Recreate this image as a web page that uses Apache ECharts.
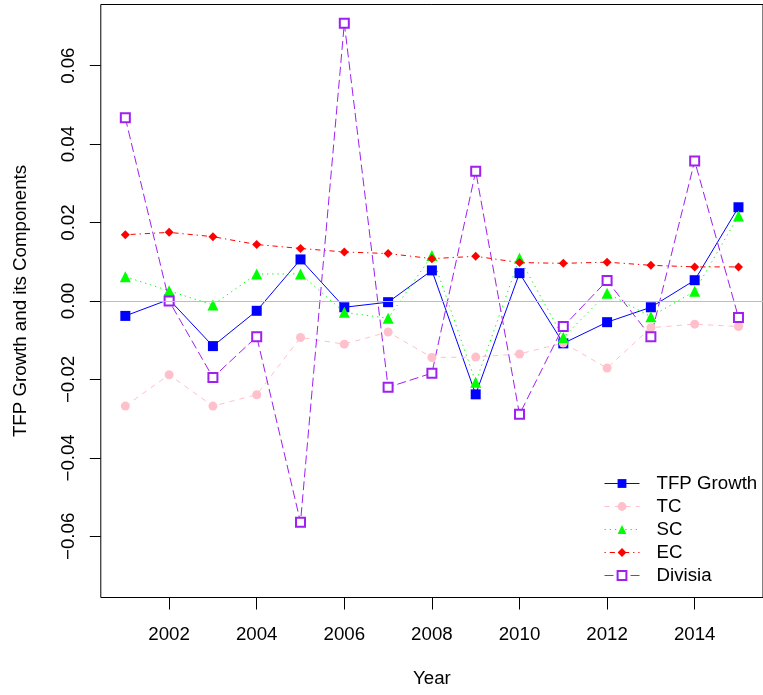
<!DOCTYPE html>
<html>
<head>
<meta charset="utf-8">
<script src="https://cdn.jsdelivr.net/npm/echarts@6/dist/echarts.min.js"></script>
<style>
html,body{margin:0;padding:0;background:#fff;}
#chart{width:763px;height:695px;}
</style>
</head>
<body>
<div id="chart"></div>
<script>
var years = [2001,2002,2003,2004,2005,2006,2007,2008,2009,2010,2011,2012,2013,2014,2015];
var tfpGrowth = [-0.0038,0.0004,-0.0115,-0.0025,0.0106,-0.0016,-0.0003,0.0078,-0.0238,0.0071,-0.0108,-0.0054,-0.0016,0.0053,0.0239];
var tc = [-0.0268,-0.0188,-0.0268,-0.0239,-0.0093,-0.0110,-0.0079,-0.0144,-0.0143,-0.0135,-0.0107,-0.0171,-0.0068,-0.0059,-0.0065];
var sc = [0.0062,0.0026,-0.0010,0.0069,0.0069,-0.0029,-0.0044,0.0116,-0.0207,0.0109,-0.0093,0.0020,-0.0040,0.0025,0.0217];
var ec = [0.0169,0.0175,0.0164,0.0144,0.0134,0.0125,0.0121,0.0108,0.0114,0.0098,0.0096,0.0099,0.0091,0.0087,0.0087];
var divisia = [0.0467,0.0000,-0.0195,-0.0091,-0.0564,0.0708,-0.0220,-0.0184,0.0331,-0.0289,-0.0065,0.0052,-0.0091,0.0357,-0.0042];
var xTicks = [2002,2004,2006,2008,2010,2012,2014];
var yTicks = [-0.06,-0.04,-0.02,0,0.02,0.04,0.06];
var seriesNames = ['TFP Growth','TC','SC','EC','Divisia'];

function pairs(vals){ return years.map(function(y,i){ return [y, vals[i]]; }); }

var FONT = 'Liberation Sans, Arial, Helvetica, sans-serif';
var FS = 18.7;
var colors = ['#0000ff','#ffc0cb','#00ff00','#ff0000','#a020f0'];
var dashes = ['solid',[5.2,5.2],[1.3,3.9],[1.3,3.9,5.2,3.9],[9,4]];

var chart = echarts.init(document.getElementById('chart'), null, {renderer:'canvas'});
chart.setOption({
  animation: false,
  backgroundColor: '#fff',
  grid: {left: 100.8, right: -1.2, top: 4.5, bottom: 97.5, show: true, borderColor: '#000', borderWidth: 1, backgroundColor: 'transparent'},
  xAxis: {
    type: 'value', min: 2000.44, max: 2015.56,
    name: 'Year', nameLocation: 'middle', nameGap: 72,
    nameTextStyle: {fontFamily: FONT, fontSize: FS, color: '#000'},
    axisLine: {show: false, onZero: false},
    splitLine: {show: false},
    axisTick: {show: true, inside: false, customValues: xTicks, length: 12, lineStyle: {color: '#000', width: 1}},
    axisLabel: {customValues: xTicks, margin: 28, fontFamily: FONT, fontSize: FS, color: '#000', formatter: function(v){ return String(v); }}
  },
  yAxis: {
    type: 'value', min: -0.0756, max: 0.0756,
    name: 'TFP Growth and its Components', nameLocation: 'middle', nameGap: 70,
    nameTextStyle: {fontFamily: FONT, fontSize: FS, color: '#000'},
    axisLine: {show: false, onZero: false},
    splitLine: {show: false},
    axisTick: {show: true, inside: false, customValues: yTicks, length: 11, lineStyle: {color: '#000', width: 1}},
    axisLabel: {customValues: yTicks, rotate: 90, margin: 22, fontFamily: FONT, fontSize: FS, color: '#000',
      formatter: function(v){ return Number(v).toFixed(2).replace('-', '\u2212'); }}
  },
  legend: {
    orient: 'vertical', left: 604, top: 472, itemGap: 0, padding: 0,
    itemWidth: 35, itemHeight: 11,
    data: seriesNames.map(function(n, i){
      return {name: n, lineStyle: {color: colors[i], width: 1, type: dashes[i]}};
    }),
    textStyle: {fontFamily: FONT, fontSize: FS, color: '#000', lineHeight: 23, padding: [0,0,0,12]}
  },
  series: [
    {name: 'TFP Growth', type: 'line', data: pairs(tfpGrowth), symbol: 'rect', symbolSize: 10,
      itemStyle: {color: colors[0]}, lineStyle: {color: colors[0], width: 1, type: dashes[0]},
      markLine: {silent: true, symbol: 'none', label: {show: false}, lineStyle: {color: '#bebebe', width: 1, type: 'solid'}, data: [{yAxis: 0}]}},
    {name: 'TC', type: 'line', data: pairs(tc), symbol: 'circle', symbolSize: 9,
      itemStyle: {color: colors[1]}, lineStyle: {color: colors[1], width: 1, type: dashes[1]}},
    {name: 'SC', type: 'line', data: pairs(sc), symbol: 'triangle', symbolSize: 11,
      itemStyle: {color: colors[2]}, lineStyle: {color: colors[2], width: 1, type: dashes[2]}},
    {name: 'EC', type: 'line', data: pairs(ec), symbol: 'diamond', symbolSize: 9,
      itemStyle: {color: colors[3]}, lineStyle: {color: colors[3], width: 1, type: dashes[3]}},
    {name: 'Divisia', type: 'line', data: pairs(divisia), symbol: 'emptyRect', symbolSize: 9,
      itemStyle: {color: colors[4], borderColor: colors[4], borderWidth: 1.1}, lineStyle: {color: colors[4], width: 1, type: dashes[4]}}
  ]
});
</script>
</body>
</html>
